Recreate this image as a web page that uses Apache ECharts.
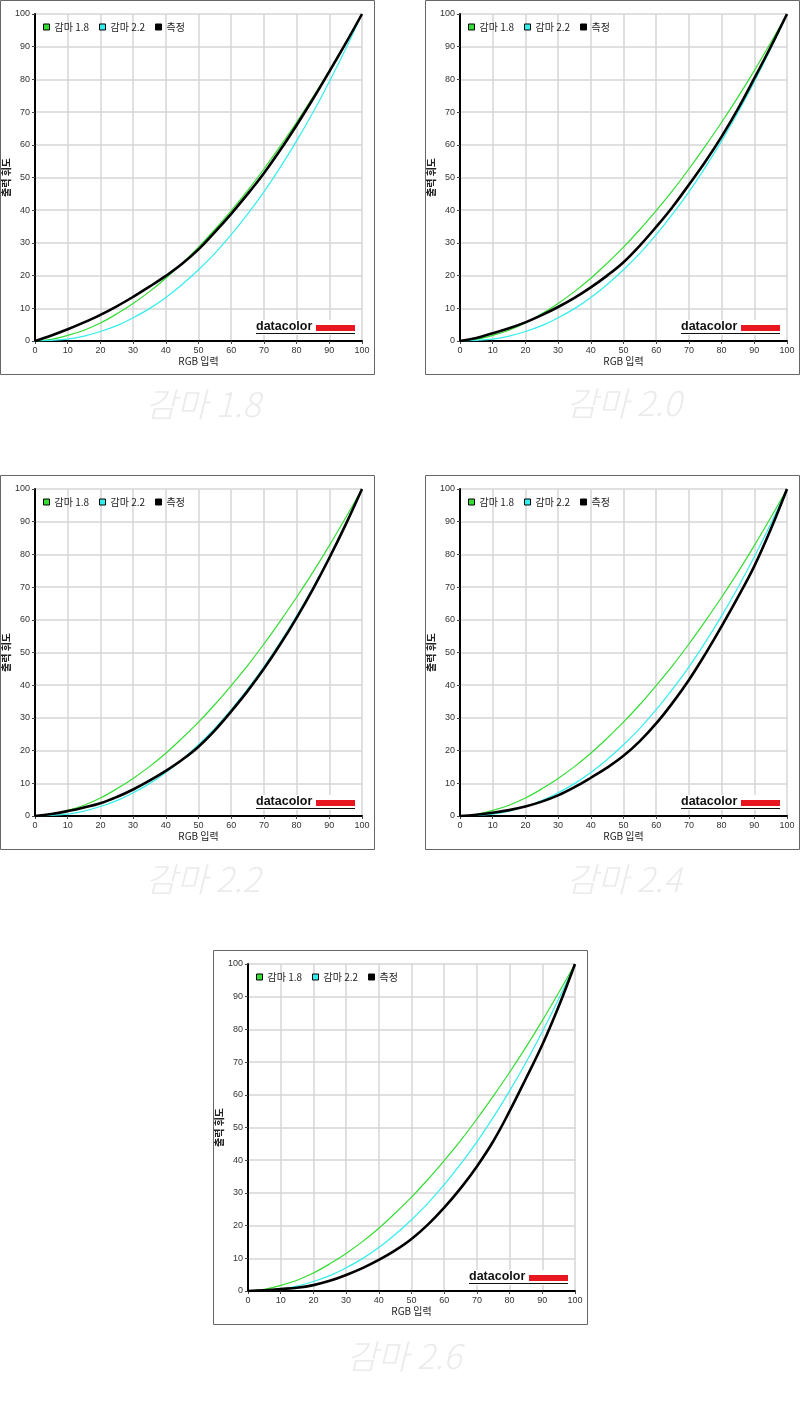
<!DOCTYPE html>
<html><head><meta charset="utf-8">
<script src="https://cdn.jsdelivr.net/npm/echarts@6/dist/echarts.min.js"></script>
<style>html,body{margin:0;padding:0;background:#fff}#c{width:800px;height:1428px}</style>
</head><body><div id="c"></div>
<script>
// ---- data ----
const inputLevels = [0,5,10,15,20,25,30,35,40,45,50,55,60,65,70,75,80,85,90,95,100];
const gamma18 = [0,0.5,1.7,3.3,5.5,8.3,11.5,15.1,19.2,23.8,28.7,34.1,39.9,46.0,52.6,59.6,66.9,74.6,82.7,91.2,100];
const gamma22 = [0,0.2,0.6,1.5,2.9,4.7,7.1,9.9,13.3,17.3,21.8,26.8,32.5,38.8,45.6,53.1,61.2,69.9,79.3,89.3,100];
const measured18 = [0,1.7,3.6,5.7,8.0,10.6,13.5,16.6,19.9,23.6,28.0,33.3,38.9,44.9,51.3,58.4,66.0,74.0,82.4,91.0,100];
const measured20 = [0,0.9,2.4,3.9,5.7,7.9,10.4,13.2,16.4,20.0,24.1,29.2,34.9,41.0,47.8,54.8,62.5,71.0,80.3,89.9,100];
const measured22 = [0,0.6,1.5,2.6,3.9,5.8,8.1,10.8,13.8,17.2,21.2,26.2,32.0,38.2,45.0,52.5,60.6,69.4,78.9,89.1,100];
const measured24 = [0,0.4,1.0,1.8,2.9,4.4,6.3,8.8,11.7,14.8,18.4,22.9,28.3,34.6,41.6,49.5,58.0,66.9,76.4,87.6,100];
const measured26 = [0,0.2,0.6,1.0,1.8,3.1,4.9,7.0,9.5,12.4,15.9,20.3,25.5,31.4,38.1,45.8,55.0,65.0,75.3,87.0,100];
const panelTitles = ['감마 1.8','감마 2.0','감마 2.2','감마 2.4','감마 2.6'];
const legendNames = ['감마 1.8','감마 2.2','측정'];
const xAxisName = 'RGB 입력';
const yAxisName = '출력 휘도';
const logoText = 'datacolor';

// ---- layout ----
const measuredSets = [measured18, measured20, measured22, measured24, measured26];
const origins = [[0,0],[425,0],[0,475],[425,475],[213,950]];
const captionPos = [[203,404],[624,403],[203,879],[624,879],[404,1356]];
const colors = ['#33dd33','#33eeee','#000000'];
const widths = [1.2,1.2,2.6];

const chart = echarts.init(document.getElementById('c'), null, {renderer:'canvas'});
const grid=[], xAxis=[], yAxis=[], series=[], legend=[], graphic=[];
const labelFont = {fontFamily:'"Liberation Sans", Arial, sans-serif', fontSize:9, color:'#333'};
const korFont = '"Noto Sans CJK KR", sans-serif';

origins.forEach(([ox,oy], i) => {
  grid.push({left:ox+35, top:oy+14, width:327, height:327});
  const common = {
    type:'value', gridIndex:i, min:0, max:100, interval:10,
    nameLocation:'middle',
    nameTextStyle:{fontFamily:korFont, fontSize:10, color:'#222'},
    axisLine:{show:true, onZero:false, lineStyle:{color:'#000', width:2}},
    axisTick:{show:true, length:3, lineStyle:{color:'#444', width:1}},
    axisLabel:Object.assign({margin:5}, labelFont),
    splitLine:{show:true, lineStyle:{color:'#d6d6d6', width:1.5}}
  };
  xAxis.push(Object.assign({}, common, {name:xAxisName, nameGap:14}));
  yAxis.push(Object.assign({}, common, {name:yAxisName, nameGap:13, nameRotate:90,
    nameTextStyle:{fontFamily:korFont, fontSize:10, color:'#222', fontWeight:'bold'}}));
  const sets = [gamma18, gamma22, measuredSets[i]];
  sets.forEach((arr, k) => {
    series.push({
      type:'line', name:legendNames[k], xAxisIndex:i, yAxisIndex:i,
      data: inputLevels.map((x,j)=>[x, arr[j]]),
      showSymbol:false, smooth:0.4,
      color: colors[k],
      lineStyle:{color:colors[k], width:widths[k]},
      emphasis:{disabled:true}, z: 3+k
    });
  });
  legend.push({
    left:ox+43, top:oy+22, padding:0, itemWidth:6, itemHeight:6, itemGap:10, icon:'rect',
    data:legendNames, selectedMode:false,
    itemStyle:{borderColor:'#000', borderWidth:1},
    textStyle:{fontFamily:korFont, fontSize:10, color:'#222', width:40, padding:0}
  });
  // panel border
  graphic.push({type:'rect', silent:true, z:100, shape:{x:ox+0.5, y:oy+0.5, width:374, height:374},
    style:{fill:'none', stroke:'#666', lineWidth:1}});
  // logo
  graphic.push({type:'rect', silent:true, z:100, shape:{x:ox+254, y:oy+320, width:103, height:15},
    style:{fill:'#fff'}});
  graphic.push({type:'text', silent:true, z:101, x:ox+256, y:oy+326.5,
    style:{text:logoText, font:'bold 12.5px "Liberation Sans", Arial, sans-serif', fill:'#111', align:'left', verticalAlign:'middle'}});
  graphic.push({type:'rect', silent:true, z:101, shape:{x:ox+316, y:oy+325, width:39, height:6},
    style:{fill:'#e8161f'}});
  graphic.push({type:'line', silent:true, z:101, shape:{x1:ox+256, y1:oy+333.5, x2:ox+355, y2:oy+333.5},
    style:{stroke:'#111', lineWidth:1.2}});
  // caption
  graphic.push({type:'text', silent:true, z:100, x:captionPos[i][0], y:captionPos[i][1],
    style:{text:panelTitles[i], font:'italic 300 34px "Noto Sans CJK KR", sans-serif', fill:'#ebebeb', align:'center', verticalAlign:'middle'}});
});

chart.setOption({animation:false, backgroundColor:'#fff', grid, xAxis, yAxis, series, legend, graphic});
</script></body></html>
